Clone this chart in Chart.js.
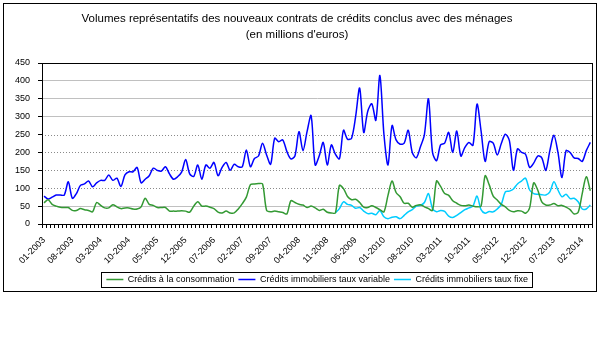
<!DOCTYPE html>
<html><head><meta charset="utf-8">
<script src="https://cdn.jsdelivr.net/npm/chart.js@4.4.1/dist/chart.umd.min.js"></script>
<style>html,body{margin:0;padding:0;background:#fff}</style>
</head><body>
<canvas id="c" width="605" height="338"></canvas>
<script>
// Categories: monthly, 01-2003 .. 04-2014
const startYear = 2003, monthCount = 136;
const categories = [];
for (let i = 0; i < monthCount; i++) {
  const m = i % 12 + 1, y = startYear + Math.floor(i / 12);
  categories.push((m < 10 ? '0' : '') + m + '-' + y);
}
const tickLabels = ['01-2003','08-2003','03-2004','10-2004','05-2005','12-2005','07-2006','02-2007','09-2007','04-2008','11-2008','06-2009','01-2010','08-2010','03-2011','10-2011','05-2012','12-2012','07-2013','02-2014'];

const consommation = [59,68,55,50,47,46,46,38,38,43,40,38,34,60,52,45,45,54,48,43,45,45,42,42,48,72,55,52,46,46,46,36,36,36,37,36,33,50,62,50,50,47,43,33,31,36,31,31,42,57,75,110,112,113,112,38,34,36,34,32,28,65,60,55,53,46,50,45,38,41,33,31,31,108,99,77,68,69,60,47,46,51,46,40,34,80,120,88,76,58,58,47,52,54,48,43,38,120,105,85,80,65,58,52,51,53,50,48,50,135,110,78,67,55,48,38,34,37,36,30,45,115,95,62,53,53,57,51,52,47,40,28,33,85,132,93];

const immoVariable = [78,70,75,81,81,81,118,72,85,108,112,120,104,115,122,122,137,122,128,105,137,146,146,158,115,125,135,156,150,148,160,140,125,132,145,180,140,133,165,125,165,156,172,135,158,172,150,167,160,160,207,160,183,190,226,193,167,240,230,235,203,182,190,258,205,258,303,165,190,228,165,221,195,182,262,237,240,300,380,256,315,336,290,415,250,165,275,235,223,226,262,200,185,215,250,350,200,177,221,226,256,200,260,190,214,228,220,335,260,175,230,226,193,225,251,233,150,210,200,195,158,170,190,185,150,205,248,200,130,205,200,185,183,175,205,228];

const immoFixe = [null,null,null,null,null,null,null,null,null,null,null,null,null,null,null,null,null,null,null,null,null,null,null,null,null,null,null,null,null,null,null,null,null,null,null,null,null,null,null,null,null,null,null,null,null,null,null,null,null,null,null,null,null,null,null,null,null,null,null,null,null,null,null,null,null,null,null,null,null,null,null,null,
31,43,62,55,52,44,46,36,29,30,26,38,20,15,19,20,15,24,34,40,50,52,60,85,43,34,38,35,22,18,24,32,40,45,50,78,40,30,35,34,42,55,90,92,98,112,120,128,95,85,83,82,81,90,118,95,76,83,71,72,62,42,42,53];

const seriesNames = ['Crédits à la consommation','Crédits immobiliers taux variable','Crédits immobiliers taux fixe'];
const seriesColors = ['#339933','#0000ff','#00ccff'];
const titleLines = ['Volumes représentatifs des nouveaux contrats de crédits conclus avec des ménages','(en millions d\'euros)'];
const dottedGridValues = [100,150,200,250];

Chart.defaults.font.family = '"Liberation Sans", Arial, sans-serif';
Chart.defaults.color = '#000';

const framePlugin = {
  id: 'frame',
  beforeDatasetsDraw(chart) {
    const {ctx, chartArea: a, scales: {y}} = chart;
    ctx.save();
    ctx.strokeStyle = '#8a8a8a'; ctx.lineWidth = 1; ctx.setLineDash([1, 2]);
    dottedGridValues.forEach(v => {
      const py = Math.round(y.getPixelForValue(v)) + 0.5;
      ctx.beginPath(); ctx.moveTo(a.left, py); ctx.lineTo(a.right, py); ctx.stroke();
    });
    ctx.restore();
  },
  afterDraw(chart) {
    const {ctx, chartArea: a, legend} = chart;
    ctx.save();
    ctx.strokeStyle = '#000'; ctx.lineWidth = 1;
    ctx.strokeRect(Math.round(a.left) + 0.5, Math.round(a.top) + 0.5, Math.round(a.right - a.left), Math.round(a.bottom - a.top));
    ctx.strokeRect(3.5, 3.5, 593, 288);
    const hb = legend.legendHitBoxes;
    if (hb && hb.length) {
      const l = hb[0].left - 5, r = hb[hb.length - 1].left + hb[hb.length - 1].width + 4;
      const cy = hb[0].top + hb[0].height / 2;
      ctx.strokeRect(Math.round(l) + 0.5, Math.round(cy - 8) + 0.5, Math.round(r - l), 15);
    }
    ctx.restore();
  }
};

const makeDataset = (k, data) => ({
  label: seriesNames[k], data,
  borderColor: seriesColors[k], backgroundColor: seriesColors[k],
  pointBorderColor: seriesColors[k], pointBorderWidth: 1.5
});

new Chart(document.getElementById('c'), {
  type: 'line',
  data: {
    labels: categories,
    datasets: [makeDataset(0, consommation), makeDataset(1, immoVariable), makeDataset(2, immoFixe)]
  },
  options: {
    responsive: false,
    animation: false,
    elements: {
      line: {borderWidth: 1.5, tension: 0.3, fill: false},
      point: {radius: 0, hoverRadius: 0}
    },
    layout: {padding: {left: 0, right: 11, top: 0, bottom: 44}, autoPadding: false},
    plugins: {
      title: {
        display: true, text: titleLines, color: '#000',
        font: {size: 11.5, weight: 'normal', lineHeight: 1.4},
        padding: {top: 11, bottom: 19.8}
      },
      legend: {
        position: 'bottom',
        fullSize: false,
        labels: {
          font: {size: 9}, color: '#000', usePointStyle: true, pointStyle: 'line',
          pointStyleWidth: 17, boxHeight: 10, padding: 4
        }
      },
      tooltip: {enabled: false}
    },
    scales: {
      x: {
        offset: true,
        grid: {offset: true, drawOnChartArea: false, color: '#000', tickColor: '#000', tickLength: 4},
        border: {color: '#000'},
        ticks: {
          autoSkip: false, minRotation: 45, maxRotation: 45, padding: 7,
          font: {size: 9}, color: '#000',
          callback: (v, i) => tickLabels.includes(categories[i]) ? categories[i] : ''
        },
        afterFit: s => { s.height = 47; }
      },
      y: {
        min: 0, max: 450,
        ticks: {stepSize: 50, font: {size: 9}, color: '#000', padding: 8},
        grid: {
          color: c => (dottedGridValues.includes(c.tick.value) ? 'rgba(0,0,0,0)' : '#c0c0c0'),
          tickColor: '#000', tickLength: 4
        },
        border: {color: '#000'},
        afterFit: s => { s.width = 42; }
      }
    }
  },
  plugins: [framePlugin]
});
</script>
</body></html>
